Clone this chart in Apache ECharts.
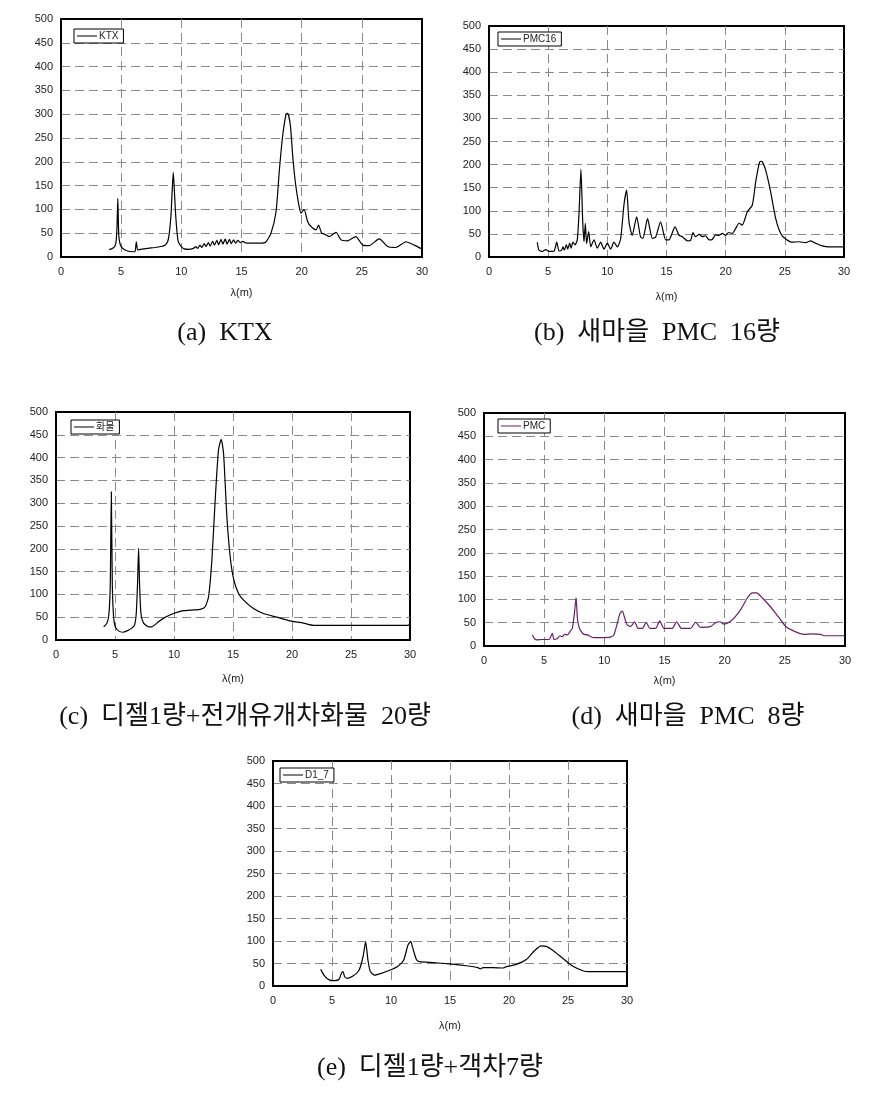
<!DOCTYPE html>
<html>
<head>
<meta charset="utf-8">
<script src="https://cdn.jsdelivr.net/npm/echarts@6/dist/echarts.min.js"></script>
<style>
html,body{margin:0;padding:0;background:#fff;}
#c{width:886px;height:1102px;}
</style>
</head>
<body>
<div id="c"></div>
<script>
// ---- data ----
const xTicks = [0, 5, 10, 15, 20, 25, 30];
const yTicks = [0, 50, 100, 150, 200, 250, 300, 350, 400, 450, 500];

const ktxX = [4.0,4.2,4.4,4.55,4.65,4.72,4.8,4.9,5.0,5.3,5.6,6.0,6.15,6.26,6.37,6.6,7.2,7.8,8.3,8.6,8.86,9.0,9.14,9.24,9.33,9.42,9.53,9.65,9.75,10.0,10.25,10.6,11.0,11.2,11.35,11.55,11.7,11.9,12.05,12.25,12.4,12.6,12.75,12.95,13.1,13.3,13.45,13.65,13.8,14.0,14.15,14.35,14.5,14.7,14.9,15.1,15.3,15.6,16.0,16.5,17.0,17.45,17.87,18.14,18.4,18.7,18.84,19.06,19.25,19.47,19.72,19.94,20.08,20.22,20.5,20.78,21.2,21.4,21.66,21.9,22.3,22.85,23.27,23.8,24.5,25.07,25.6,26.45,27.15,27.84,28.67,29.36,30.0];
const ktxY = [16,17,20,28,60,123,45,28,22,15,12,11,11,32,15,16,18,20,22,24,32,50,88,140,178,140,88,50,32,22,17,16,18,22,18,25,20,28,22,30,23,33,25,35,26,37,27,38,27,37,28,36,29,35,30,33,30,29,29,29,31,50,95,180,250,300,302,277,214,158,116,92,97,99,74,64,57,67,50,48,43,52,36,34,43,25,24,38,22,20,32,25,17];

const pmc16X = [4.08,4.22,4.5,4.8,5.07,5.5,5.72,5.92,6.14,6.25,6.37,6.54,6.65,6.82,6.93,7.1,7.27,7.46,7.6,7.77,7.92,8.03,8.14,8.25,8.42,8.6,8.87,9.15,9.44,9.72,10.0,10.28,10.56,10.85,11.13,11.4,11.63,11.83,12.1,12.48,12.8,13.0,13.4,13.8,14.08,14.5,14.93,15.2,15.72,16.06,16.34,16.76,17.04,17.24,17.46,17.75,18.03,18.3,18.6,18.87,19.15,19.44,19.72,20.0,20.23,20.56,20.85,21.13,21.4,21.83,22.25,22.54,22.87,23.04,23.38,23.8,24.23,24.65,25.07,25.63,26.2,26.76,27.18,27.6,28.17,28.73,30.0];
const pmc16Y = [32,15,12,16,12,13,32,13,15,22,15,27,17,30,19,32,26,37,91,190,76,33,73,29,55,22,37,19,32,17,30,17,32,22,40,112,145,76,47,87,44,40,83,40,43,76,37,37,65,47,44,35,36,53,44,49,44,46,37,38,48,47,51,47,53,51,62,73,69,98,112,163,206,207,188,141,83,51,39,32,33,31,35,30,24,22,22];

const cargoX = [4.04,4.32,4.49,4.6,4.69,4.77,4.88,5.02,5.3,5.67,6.01,6.43,6.66,6.8,6.91,7.0,7.08,7.2,7.42,7.85,8.13,8.55,9.12,9.96,10.67,11.66,12.22,12.64,12.93,13.21,13.49,13.77,14.0,14.2,14.48,14.76,15.04,15.47,16.03,16.74,17.58,18.71,19.84,20.97,21.82,23.51,29.86,29.95];
const cargoY = [29,37,58,124,325,124,51,29,20,17,20,26,33,58,124,201,124,58,37,29,29,37,48,58,64,66,67,73,95,175,307,417,440,409,271,183,135,102,84,69,58,50,42,37,32,32,32,35];

const pmc8X = [4.02,4.21,4.43,4.85,5.4,5.68,5.82,6.09,6.32,6.51,6.7,6.93,7.15,7.34,7.53,7.65,7.76,7.9,8.09,8.31,8.59,8.86,9.14,9.42,9.97,10.53,10.8,11.08,11.3,11.5,11.69,11.91,12.19,12.52,12.8,13.16,13.49,13.77,14.27,14.6,14.96,15.65,16.01,16.4,17.17,17.59,18.0,18.84,19.25,19.61,19.94,20.36,20.78,21.33,21.88,22.3,22.66,23.13,23.68,24.24,24.65,25.07,25.76,26.6,27.29,27.98,28.25,30.0];
const pmc8Y = [24,15,13,14,14,27,14,16,22,20,25,24,31,38,74,104,60,40,31,25,24,20,18,18,18,19,24,49,70,75,60,45,42,52,38,38,51,38,38,54,38,38,52,38,38,51,40,42,50,52,47,51,60,78,103,114,114,103,88,70,56,42,32,25,26,25,22,22];

const d17X = [4.04,4.38,4.8,5.23,5.6,5.79,5.93,6.07,6.27,6.78,7.29,7.63,7.85,8.05,8.25,8.62,9.18,9.89,10.59,11.07,11.44,11.67,11.86,12.15,12.43,13.56,14.97,16.38,17.37,17.57,17.8,18.64,19.49,19.77,20.62,21.47,22.18,22.74,23.16,23.73,24.58,25.42,26.27,26.69,30.0];
const d17Y = [37,22,13,12,15,28,32,21,17,22,35,65,98,57,32,24,28,35,44,57,91,99,83,59,54,52,49,45,41,38,41,41,40,43,48,59,79,89,88,79,61,44,34,32,32];

const names = ['KTX', 'PMC16', '화물', 'PMC', 'D1_7'];
const captions = ['(a)  KTX', '(b)  새마을  PMC  16량', '(c)  디젤1량+전개유개차화물  20량', '(d)  새마을  PMC  8량', '(e)  디젤1량+객차7량'];

// ---- layout ----
const grids = [
  {left: 61, top: 19, width: 361, height: 238},
  {left: 489, top: 26, width: 355, height: 231},
  {left: 56, top: 412, width: 354, height: 228},
  {left: 484, top: 413, width: 361, height: 233},
  {left: 273, top: 761, width: 354, height: 225}
];
const legendPos = [[74, 29], [498, 32], [71, 420], [498, 419], [280, 768]];
const nameGaps = [30, 34, 33, 29, 34];
const capPos = [[225, 333], [657, 333], [245, 717], [688, 717], [430, 1068]];
const colors = ['#000', '#000', '#000', '#6b1c6b', '#000'];
const series = [[ktxX, ktxY], [pmc16X, pmc16Y], [cargoX, cargoY], [pmc8X, pmc8Y], [d17X, d17Y]];

const tickFont = {fontFamily: 'Liberation Sans, Arial, sans-serif', fontSize: 11, color: '#222'};
const split = {show: true, showMinLine: false, showMaxLine: false, lineStyle: {color: '#8a8a8a', type: [9, 5], width: 1}};

const option = {
  animation: false,
  backgroundColor: '#fff',
  grid: grids.map(g => Object.assign({show: true, borderColor: '#000', borderWidth: 2, backgroundColor: '#fff', containLabel: false}, g)),
  xAxis: grids.map((g, i) => ({
    type: 'value', gridIndex: i, min: xTicks[0], max: xTicks[xTicks.length - 1], interval: 5,
    axisLine: {show: true, onZero: false, lineStyle: {color: '#000', width: 2}},
    axisTick: {show: false},
    axisLabel: Object.assign({margin: 9}, tickFont),
    splitLine: split,
    name: 'λ(m)', nameLocation: 'middle', nameGap: nameGaps[i],
    nameTextStyle: {fontFamily: 'Liberation Sans, Arial, sans-serif', fontSize: 11, color: '#222'}
  })),
  yAxis: grids.map((g, i) => ({
    type: 'value', gridIndex: i, min: yTicks[0], max: yTicks[yTicks.length - 1], interval: 50,
    axisLine: {show: true, onZero: false, lineStyle: {color: '#000', width: 2}},
    axisTick: {show: false},
    axisLabel: Object.assign({margin: 8}, tickFont),
    splitLine: split
  })),
  legend: names.map((n, i) => ({
    data: [n], left: legendPos[i][0], top: legendPos[i][1],
    orient: 'horizontal', icon: 'rect', itemWidth: 20, itemHeight: 1, itemGap: 2,
    padding: [2, 5, 2, 3], borderColor: '#000', borderWidth: 1, backgroundColor: '#fff',
    textStyle: {fontFamily: 'Liberation Sans, Arial, "Noto Sans CJK KR", sans-serif', fontSize: 10, color: '#222', padding: [0, 0, 0, -3]},
    selectedMode: false
  })),
  series: series.map((s, i) => ({
    type: 'line', name: names[i], xAxisIndex: i, yAxisIndex: i,
    data: s[0].map((x, k) => [x, s[1][k]]),
    showSymbol: false, symbol: 'none', smooth: 0.2,
    lineStyle: {color: colors[i], width: 1.2}, itemStyle: {color: colors[i]}
  })),
  graphic: captions.map((t, i) => ({
    type: 'text', x: capPos[i][0], y: capPos[i][1],
    style: {text: t, fill: '#111', font: '26px "Liberation Serif", "Noto Sans CJK KR", serif', textAlign: 'center', textVerticalAlign: 'middle'}
  }))
};

const chart = echarts.init(document.getElementById('c'), null, {renderer: 'canvas'});
chart.setOption(option);
</script>
</body>
</html>
